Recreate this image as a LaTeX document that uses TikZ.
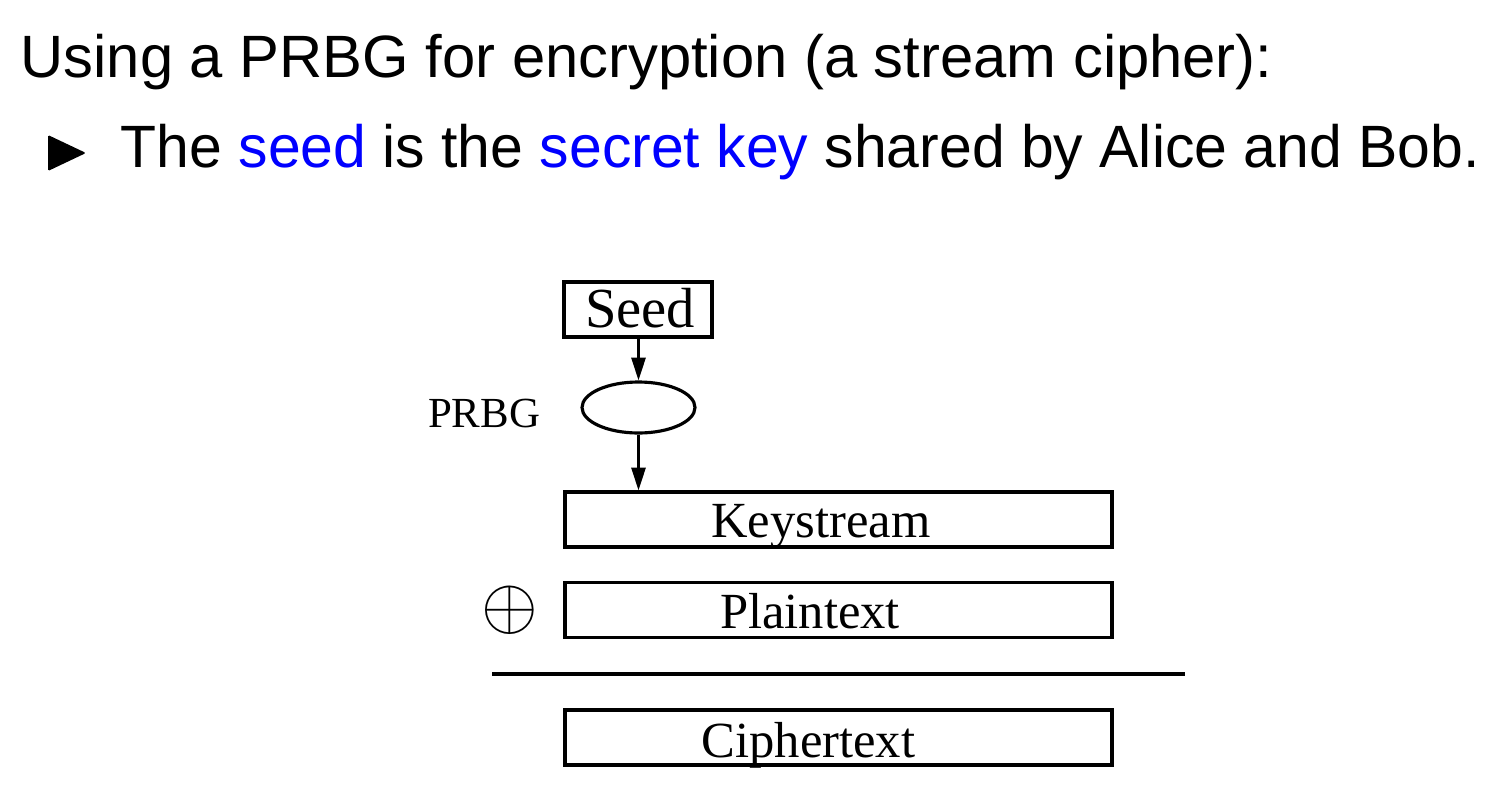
\documentclass[tikz,border=0pt]{standalone}
\usepackage{fontspec}
\usepackage{pdfrender}
\setmainfont{Liberation Serif}
\newfontfamily\hv{Liberation Sans}
\newfontfamily\hvb[FakeStretch=0.986]{Liberation Sans}
\usetikzlibrary{shapes.geometric,arrows.meta}
\begin{document}
\begin{tikzpicture}[x=0.1mm,y=-0.1mm,
  head/.style={font=\hv\fontsize{17}{20}\selectfont, anchor=base west, inner sep=0pt},
  box/.style={draw, line width=0.9pt, inner sep=0pt, minimum width=54.7mm, minimum height=5.5mm},
  lbl/.style={font=\fontsize{14.4}{17}\selectfont, anchor=base, inner sep=0pt},
  arr/.style={line width=0.8pt, -{Triangle[length=6.5pt,width=4pt]}},
]
\useasboundingbox (0,0) rectangle (1506,802);
\node[head] (title) at (20,78) {Using a PRBG for encryption (a stream cipher):};
\fill[rounded corners=0.4pt] (48,135) -- (86,153) -- (48,171) -- cycle;
\node[head, font=\hvb\fontsize{17}{20}\selectfont] (bul) at (120,168) {The \textcolor{blue}{seed} is the \textcolor{blue}{secret key} shared by Alice and Bob.};

\node[box, minimum width=14.8mm] (seed) at (638,309.5) {};
\node[lbl, font=\fontsize{16.1}{19}\selectfont] (seedl) at (640,327) {Seed};
\node[draw, ellipse, line width=0.9pt, inner sep=0pt, minimum width=11.3mm, minimum height=5.1mm] (prbg) at (638.5,407.5) {};
\node[lbl, font=\fontsize{12.2}{14}\selectfont] (lab) at (484,427) {PRBG};

\node[box] (ks) at (838.5,519.5) {};
\node[lbl] (ksl) at (821,537) {Keystream};
\node[box] (pt) at (838.5,610) {};
\node[lbl] (ptl) at (810,628) {Plaintext};
\node[box] (ct) at (838.5,737.5) {};
\node[lbl] (ctl) at (808.5,757) {Ciphertext};
\node[font=\fontsize{21}{24}\selectfont, inner sep=0pt] (xor) at (510,610) {\textpdfrender{TextRenderingMode=FillStroke,LineWidth=0.35pt}{$\oplus$}};

\coordinate (l1) at (492,674);
\coordinate (l2) at (1185,674);
\draw[line width=0.9pt] (l1) -- (l2);

\draw[arr] (seed.south -| prbg.north) -- (prbg.north);
\draw[arr] (prbg.south) -- (prbg.south |- ks.north);
\end{tikzpicture}
\end{document}
